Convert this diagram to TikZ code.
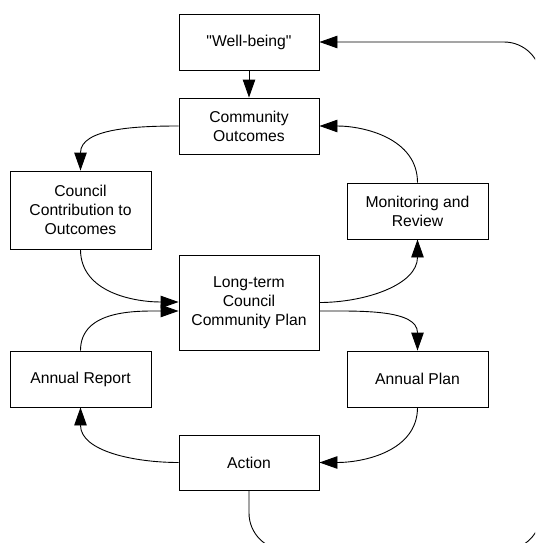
\documentclass[tikz,border=0pt]{standalone}
\usepackage{fontspec}
\setmainfont{Liberation Sans}
% a family without TeX ligatures, so that " stays a straight quote
\newfontfamily\boxfont{Liberation Sans}
\usetikzlibrary{arrows.meta}
\begin{document}
\begin{tikzpicture}[x=1pt,y=-1pt,
  box/.style={draw,line width=0.9pt,minimum width=140pt,minimum height=56pt,
    inner sep=0pt,align=center,font=\boxfont\fontsize{15.7}{19}\selectfont},
  flow/.style={line width=0.9pt,-{Triangle[length=18pt,width=12.5pt]}}]
\useasboundingbox (0,0) rectangle (535,543);
\clip (0,0) rectangle (535,543);

% planning cycle boxes
\node[box] (well)   at (249,42)    {"Well-being"};
\node[box] (comm)   at (249,126)   {Community\\Outcomes};
\node[box,minimum width=141pt,minimum height=78pt] (ccont) at (80.5,210) {Council\\Contribution to\\Outcomes};
\node[box,minimum width=141pt] (mon) at (417.5,211) {Monitoring and\\Review};
\node[box,minimum height=95pt] (ltp) at (249,302.5) {Long-term\\Council\\Community Plan};
\node[box,minimum width=141pt] (arep)  at (80.5,379)  {Annual Report};
\node[box,minimum width=141pt] (aplan) at (417.5,379) {Annual Plan};
\node[box,minimum height=55pt] (action) at (249,462.5) {Action};

% connectors
\draw[flow] (well) -- (comm);
\draw[flow] (comm.west) to[out=180,in=90] (ccont.north);
\draw[flow] (ccont.south) to[out=-90,in=180] ([yshift=0.5pt]ltp.west);
\draw[flow] (arep.north) to[out=90,in=180] ([yshift=-8.5pt]ltp.west);
\draw[flow] ([yshift=0pt]ltp.east) to[out=0,in=-90] (mon.south);
\draw[flow] (mon.north) to[out=90,in=0] (comm.east);
\draw[flow] ([yshift=-8.5pt]ltp.east) to[out=0,in=90] (aplan.north);
\draw[flow] (aplan.south) to[out=-90,in=0] (action.east);
\draw[flow] (action.west) to[out=180,in=-90] (arep.south);

% outer loop back to well-being
\coordinate (bl) at (249,550);
\coordinate (br) at (541,550);
\coordinate (tr) at (541,42);
\draw[flow,rounded corners=37pt] (action.south) -- (bl) -- (br) -- (tr) -- (well.east);
\end{tikzpicture}
\end{document}
